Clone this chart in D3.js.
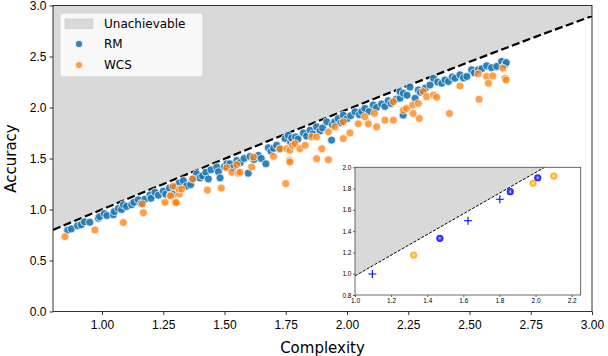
<!DOCTYPE html>
<html>
<head>
<meta charset="utf-8">
<script src="https://cdn.jsdelivr.net/npm/d3@7"></script>
<style>
    body { margin: 0; background: #fff; }
    svg { font-family: "DejaVu Sans", sans-serif; display: block; }
</style>
</head>
<body>
<div id="chart-container"></div>
<script>
// boundary of what can be achieved (dashed line)
const boundaryComplexity = [0.8, 1.2, 1.6, 2.0, 2.4, 2.8, 3.0];
const boundaryAccuracy = [0.80, 1.20, 1.595, 1.98, 2.355, 2.72, 2.896];

// RM systems
const rmComplexity = [0.86, 0.875, 0.90, 0.915, 0.928, 0.95, 0.985, 0.99, 1.009, 1.02, 1.046, 1.05, 1.067, 1.08, 1.087, 1.10, 1.121, 1.13, 1.148, 1.16,
    1.175, 1.196, 1.20, 1.216, 1.23, 1.25, 1.26, 1.275, 1.29, 1.30, 1.315, 1.332, 1.345, 1.362, 1.37, 1.386, 1.40, 1.41, 1.424, 1.434,
    1.445, 1.468, 1.475, 1.482, 1.50, 1.51, 1.522, 1.535, 1.55, 1.565, 1.58, 1.597, 1.604, 1.62, 1.638, 1.65, 1.669, 1.679, 1.69, 1.70,
    1.713, 1.725, 1.747, 1.76, 1.77, 1.774, 1.79, 1.80, 1.822, 1.835, 1.849, 1.86, 1.876, 1.89, 1.90, 1.917, 1.937, 1.94, 1.95, 1.964,
    1.975, 1.985, 2.00, 2.015, 2.033, 2.05, 2.06, 2.073, 2.09, 2.107, 2.12, 2.141, 2.155, 2.168, 2.18, 2.20, 2.216, 2.216, 2.229, 2.23,
    2.245, 2.257, 2.278, 2.291, 2.30, 2.32, 2.339, 2.353, 2.37, 2.387, 2.40, 2.414, 2.43, 2.441, 2.461, 2.475, 2.489, 2.509, 2.52, 2.536,
    2.55, 2.57, 2.59, 2.611, 2.631, 2.645, 2.65];
const rmAccuracy = [0.797, 0.81, 0.84, 0.85, 0.88, 0.875, 0.915, 0.93, 0.96, 0.94, 0.948, 0.98, 1.01, 1.0, 1.046, 1.03, 1.046, 1.07, 1.096, 1.06,
    1.10, 1.142, 1.11, 1.169, 1.14, 1.18, 1.15, 1.21, 1.15, 1.22, 1.26, 1.283, 1.23, 1.244, 1.30, 1.35, 1.31, 1.33, 1.366, 1.30,
    1.39, 1.416, 1.37, 1.31, 1.42, 1.45, 1.448, 1.41, 1.48, 1.46, 1.50, 1.356, 1.52, 1.49, 1.53, 1.50, 1.448, 1.606, 1.57, 1.60,
    1.629, 1.59, 1.695, 1.727, 1.66, 1.70, 1.71, 1.69, 1.751, 1.72, 1.777, 1.74, 1.81, 1.77, 1.80, 1.86, 1.68, 1.83, 1.86, 1.892,
    1.85, 1.925, 1.89, 1.92, 1.958, 1.93, 1.96, 1.991, 1.96, 2.024, 2.00, 2.034, 2.01, 2.067, 2.04, 2.08, 2.09, 2.156, 1.925, 2.139,
    2.12, 2.20, 2.09, 2.172, 2.15, 2.19, 2.221, 2.287, 2.25, 2.238, 2.27, 2.255, 2.30, 2.287, 2.32, 2.29, 2.304, 2.369, 2.34, 2.369,
    2.38, 2.409, 2.39, 2.403, 2.452, 2.419, 2.44];

// WCS systems
const wcsComplexity = [0.849, 0.971, 1.087, 1.169, 1.165, 1.257, 1.278, 1.28, 1.298, 1.303, 1.316, 1.314, 1.29, 1.325, 1.37, 1.43, 1.487, 1.75, 1.509, 1.53,
    1.55, 1.556, 1.563, 1.611, 1.618, 1.70, 1.727, 1.754, 1.765, 1.767, 1.778, 1.767, 1.788, 1.808, 1.829, 1.856, 1.876, 1.897, 1.876, 1.924,
    1.924, 1.951, 1.985, 1.985, 2.012, 2.046, 2.073, 2.087, 2.112, 2.121, 2.155, 2.189, 2.189, 2.23, 2.243, 2.268, 2.27, 2.291, 2.295, 2.311,
    2.325, 2.353, 2.366, 2.418, 2.461, 2.536, 2.539, 2.57, 2.577, 2.595, 2.636, 2.645, 2.65];
const wcsAccuracy = [0.734, 0.80, 0.872, 0.968, 1.055, 1.07, 1.135, 1.135, 1.07, 1.068, 1.152, 1.20, 1.228, 1.20, 1.30, 1.19, 1.21, 1.254, 1.409, 1.366,
    1.44, 1.356, 1.366, 1.416, 1.514, 1.52, 1.596, 1.596, 1.48, 1.58, 1.629, 1.465, 1.646, 1.596, 1.629, 1.712, 1.712, 1.596, 1.498, 1.488,
    1.761, 1.81, 1.695, 1.86, 1.751, 1.84, 1.909, 1.84, 1.942, 1.81, 1.876, 2.057, 1.876, 1.974, 1.991, 2.024, 1.942, 2.04, 1.892, 2.156,
    2.106, 2.123, 2.10, 1.942, 2.211, 2.33, 2.08, 2.304, 2.238, 2.31, 2.386, 2.287, 2.27];

// inset
const insetBoundaryComplexity = [1.0, 2.05];
const insetBoundaryAccuracy = [0.98, 2.0];
const insetPlusComplexity = [1.096, 1.626, 1.802];
const insetPlusAccuracy = [0.997, 1.498, 1.70];
const insetBlueComplexity = [1.47, 1.86, 2.012];
const insetBlueAccuracy = [1.333, 1.771, 1.902];
const insetOrangeComplexity = [1.325, 1.986, 2.101];
const insetOrangeAccuracy = [1.176, 1.85, 1.918];

const legendLabels = ['Unachievable', 'RM', 'WCS'];

const width = 608;
const height = 356;
const margin = { top: 5.5, right: 16, bottom: 44.5, left: 53 };

const svg = d3.select('#chart-container')
    .append('svg')
    .attr('width', width)
    .attr('height', height);

const x = d3.scaleLinear().domain([0.8, 3.0]).range([margin.left, width - margin.right]);
const y = d3.scaleLinear().domain([0, 3.0]).range([height - margin.bottom, margin.top]);

svg.append('clipPath').attr('id', 'main-clip')
    .append('rect')
    .attr('x', margin.left).attr('y', margin.top)
    .attr('width', width - margin.left - margin.right)
    .attr('height', height - margin.top - margin.bottom);

const plot = svg.append('g').attr('clip-path', 'url(#main-clip)');

const boundary = boundaryComplexity.map((c, i) => ({ c, a: boundaryAccuracy[i] }));

// gray region above the boundary
plot.append('path')
    .datum(boundary)
    .attr('d', d3.area().x(d => x(d.c)).y0(y(3.0)).y1(d => y(d.a)).curve(d3.curveMonotoneX))
    .style('fill', '#d9d9d9');

plot.append('path')
    .datum(boundary)
    .attr('d', d3.line().x(d => x(d.c)).y(d => y(d.a)).curve(d3.curveMonotoneX))
    .style('fill', 'none')
    .style('stroke', '#000')
    .style('stroke-width', 2.2)
    .style('stroke-dasharray', '8,3.5');

function drawDots(cs, as, color, opacity) {
    plot.append('g')
        .selectAll('circle')
        .data(cs.map((c, i) => ({ c, a: as[i] })))
        .enter()
        .append('circle')
        .attr('cx', d => x(d.c))
        .attr('cy', d => y(d.a))
        .attr('r', 4)
        .style('fill', color)
        .style('fill-opacity', opacity)
        .style('stroke', '#fff')
        .style('stroke-width', 0.7);
}
drawDots(rmComplexity, rmAccuracy, '#1f77b4', 0.92);
drawDots(wcsComplexity, wcsAccuracy, '#ff7f0e', 0.75);

// axes
const xAxis = svg.append('g')
    .attr('transform', `translate(0, ${height - margin.bottom})`)
    .call(d3.axisBottom(x).tickValues(d3.range(1.0, 3.01, 0.25)).tickFormat(d3.format('.2f')).tickSize(3.5).tickSizeOuter(0));
const yAxis = svg.append('g')
    .attr('transform', `translate(${margin.left}, 0)`)
    .call(d3.axisLeft(y).tickValues(d3.range(0, 3.01, 0.5)).tickFormat(d3.format('.1f')).tickSize(3.5).tickSizeOuter(0));
[xAxis, yAxis].forEach(a => {
    a.selectAll('text').style('font-size', '12px').style('fill', '#000').attr('font-family', null);
    a.selectAll('line').style('stroke', '#000').style('stroke-width', 0.8);
    a.select('.domain').remove();
});
xAxis.selectAll('text').attr('dy', '0.95em');

svg.append('rect')
    .attr('x', margin.left).attr('y', margin.top)
    .attr('width', width - margin.left - margin.right)
    .attr('height', height - margin.top - margin.bottom)
    .style('fill', 'none').style('stroke', '#000').style('stroke-width', 0.8);

svg.append('text')
    .attr('x', (margin.left + width - margin.right) / 2)
    .attr('y', 353)
    .attr('text-anchor', 'middle')
    .style('font-size', '15px')
    .text('Complexity');
svg.append('text')
    .attr('transform', `translate(16, ${(margin.top + height - margin.bottom) / 2}) rotate(-90)`)
    .attr('text-anchor', 'middle')
    .style('font-size', '15px')
    .text('Accuracy');

// legend
const legend = svg.append('g');
legend.append('rect')
    .attr('x', 60).attr('y', 13).attr('width', 143).attr('height', 64).attr('rx', 2.5)
    .style('fill', '#fff').style('fill-opacity', 0.8)
    .style('stroke', '#ccc').style('stroke-width', 0.8);
legend.append('rect')
    .attr('x', 65).attr('y', 19).attr('width', 28).attr('height', 9.5)
    .style('fill', '#d9d9d9').style('stroke', '#c8c8c8').style('stroke-width', 0.6);
[['#1f77b4', 44, 0.92], ['#ff7f0e', 65, 0.75]].forEach(([color, cy, op]) => {
    legend.append('circle')
        .attr('cx', 79).attr('cy', cy).attr('r', 3.6)
        .style('fill', color).style('fill-opacity', op)
        .style('stroke', '#fff').style('stroke-width', 0.7);
});
legendLabels.forEach((label, i) => {
    legend.append('text')
        .attr('x', 104)
        .attr('y', 23.5 + i * 20.5)
        .attr('dy', '0.35em')
        .style('font-size', '12px')
        .text(label);
});

// inset axes
const ix = d3.scaleLinear().domain([1.0, 2.25]).range([355, 580.7]);
const iy = d3.scaleLinear().domain([0.8, 2.0]).range([295, 167.3]);

svg.append('clipPath').attr('id', 'inset-clip')
    .append('rect')
    .attr('x', 355).attr('y', 167.3).attr('width', 225.7).attr('height', 127.7);

svg.append('rect')
    .attr('x', 355).attr('y', 167.3).attr('width', 225.7).attr('height', 127.7)
    .style('fill', '#fff');

const inset = svg.append('g').attr('clip-path', 'url(#inset-clip)');
const insetBoundary = insetBoundaryComplexity.map((c, i) => ({ c, a: insetBoundaryAccuracy[i] }));

inset.append('path')
    .datum(insetBoundary)
    .attr('d', d3.area().x(d => ix(d.c)).y0(iy(2.0)).y1(d => iy(d.a)))
    .style('fill', '#d9d9d9');
inset.append('path')
    .datum(insetBoundary)
    .attr('d', d3.line().x(d => ix(d.c)).y(d => iy(d.a)))
    .style('fill', 'none').style('stroke', '#000')
    .style('stroke-width', 1).style('stroke-dasharray', '3,1.5');

// plus markers
inset.append('g')
    .selectAll('path')
    .data(insetPlusComplexity.map((c, i) => ({ c, a: insetPlusAccuracy[i] })))
    .enter()
    .append('path')
    .attr('d', d => `M${ix(d.c) - 4},${iy(d.a)}h8M${ix(d.c)},${iy(d.a) - 4}v8`)
    .style('stroke', '#0000ff').style('stroke-width', 1.1).style('fill', 'none');

function drawInsetCircles(cs, as, color) {
    const g = inset.append('g')
        .selectAll('g')
        .data(cs.map((c, i) => ({ c, a: as[i] })))
        .enter()
        .append('g')
        .attr('transform', d => `translate(${ix(d.c)}, ${iy(d.a)})`);
    g.append('circle').attr('r', 3.6).style('fill', color).style('fill-opacity', 0.85);
    g.append('path')
        .attr('d', d3.symbol().type(d3.symbolAsterisk).size(14))
        .style('stroke', '#fff').style('stroke-opacity', 0.6).style('stroke-width', 0.7).style('fill', 'none');
}
drawInsetCircles(insetBlueComplexity, insetBlueAccuracy, '#0000ff');
drawInsetCircles(insetOrangeComplexity, insetOrangeAccuracy, '#ffa500');

const ixAxis = svg.append('g')
    .attr('transform', 'translate(0, 295)')
    .call(d3.axisBottom(ix).tickValues(d3.range(1.0, 2.21, 0.2)).tickFormat(d3.format('.1f')).tickSize(2).tickPadding(1.5).tickSizeOuter(0));
const iyAxis = svg.append('g')
    .attr('transform', 'translate(355, 0)')
    .call(d3.axisLeft(iy).tickValues(d3.range(0.8, 2.01, 0.2)).tickFormat(d3.format('.1f')).tickSize(2).tickPadding(1.5).tickSizeOuter(0));
[ixAxis, iyAxis].forEach(a => {
    a.selectAll('text').style('font-size', '6.5px').style('fill', '#000').attr('font-family', null);
    a.selectAll('line').style('stroke', '#000').style('stroke-width', 0.6);
    a.select('.domain').remove();
});

svg.append('rect')
    .attr('x', 355).attr('y', 167.3).attr('width', 225.7).attr('height', 127.7)
    .style('fill', 'none').style('stroke', '#444').style('stroke-width', 0.8);
</script>
</body>
</html>
